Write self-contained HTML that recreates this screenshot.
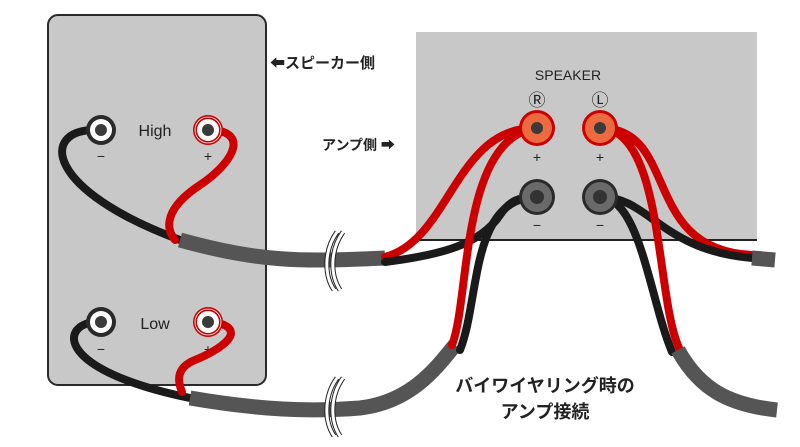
<!DOCTYPE html>
<html><head><meta charset="utf-8"><style>
html,body{margin:0;padding:0;background:#fff}
svg{display:block}
text{font-family:"Liberation Sans","Noto Sans CJK JP",sans-serif}
</style></head><body>
<svg width="800" height="447" viewBox="0 0 800 447" xmlns="http://www.w3.org/2000/svg">
<rect x="48" y="15" width="218" height="370" rx="10" fill="#c8c8c8" stroke="#2a2a2a" stroke-width="2"/>
<rect x="416" y="32" width="341" height="208" fill="#c8c8c8"/>
<line x1="416" y1="240" x2="757" y2="240" stroke="#222" stroke-width="2"/>

<g font-weight="bold" fill="#222">
<text x="270" y="68" font-size="15">⬅スピーカー側</text>
<text x="322" y="150" font-size="14">アンプ側 ➡</text>
<text x="545" y="392" font-size="18" text-anchor="middle">バイワイヤリング時の</text>
<text x="545" y="418" font-size="18" text-anchor="middle">アンプ接続</text>
</g>
<text x="568" y="80" font-size="14" text-anchor="middle" fill="#222">SPEAKER</text>
<text x="537" y="106" font-size="17" text-anchor="middle" fill="#222">Ⓡ</text>
<text x="600" y="106" font-size="17" text-anchor="middle" fill="#222">Ⓛ</text>
<text x="155" y="136" font-size="16" text-anchor="middle" fill="#222">High</text>
<text x="155" y="329" font-size="16" text-anchor="middle" fill="#222">Low</text>
<g font-size="14" fill="#222" text-anchor="middle">
<text x="101" y="161">−</text><text x="208" y="161">+</text>
<text x="101" y="354">−</text><text x="208" y="354">+</text>
<text x="537" y="162">+</text><text x="600" y="162">+</text>
<text x="537" y="230">−</text><text x="600" y="230">−</text>
</g>

<g fill="none" stroke-linecap="round">
<path d="M95 130 C40 130 45 190 180 240" stroke="#1a1a1a" stroke-width="8"/>
<path d="M215 130 C250 135 230 165 200 185 C165 208 165 228 175 240" stroke="#c00" stroke-width="8"/>
<path d="M180 240 C260 262 300 262 385 258" stroke="#555" stroke-width="15" stroke-linecap="butt"/>
<path d="M385 257 C450 240 455 128 535 128" stroke="#c00" stroke-width="8"/>
<path d="M385 262 C440 255 480 245 500 215 C510 200 520 197 535 197" stroke="#1a1a1a" stroke-width="8"/>
<path d="M95 322 C60 325 55 370 190 398" stroke="#1a1a1a" stroke-width="8"/>
<path d="M215 322 C250 330 220 350 195 360 C175 368 178 382 182 392" stroke="#c00" stroke-width="8"/>
<path d="M190 398 C260 410 310 412 360 408 C410 402 435 370 455 345" stroke="#555" stroke-width="15" stroke-linecap="butt"/>
<path d="M452 345 C470 300 460 140 535 128" stroke="#c00" stroke-width="8"/>
<path d="M460 350 C480 300 470 200 535 197" stroke="#1a1a1a" stroke-width="8"/>
<path d="M600 128 C680 128 640 250 752 255" stroke="#c00" stroke-width="8"/>
<path d="M600 197 C650 197 660 250 752 258" stroke="#1a1a1a" stroke-width="8"/>
<path d="M600 128 C665 130 655 300 680 350" stroke="#c00" stroke-width="8"/>
<path d="M600 197 C640 197 650 300 672 352" stroke="#1a1a1a" stroke-width="8"/>
<path d="M752 258 L775 260" stroke="#555" stroke-width="15" stroke-linecap="butt"/>
<path d="M678 350 C700 390 730 405 777 410" stroke="#555" stroke-width="15" stroke-linecap="butt"/>
<g stroke-linecap="butt">
<path d="M337 232 C324 250 324 275 334 290 M343 232 C330 250 330 275 340 290" stroke="#222" stroke-width="5"/>
<path d="M337 232 C324 250 324 275 334 290 M343 232 C330 250 330 275 340 290" stroke="#fff" stroke-width="3"/>
<path d="M337 378 C324 396 324 421 334 436 M343 378 C330 396 330 421 340 436" stroke="#222" stroke-width="5"/>
<path d="M337 378 C324 396 324 421 334 436 M343 378 C330 396 330 421 340 436" stroke="#fff" stroke-width="3"/>
</g>
</g>

<g>
<circle cx="101" cy="130" r="15" fill="#2a2a2a"/><circle cx="101" cy="130" r="11" fill="#fff"/><circle cx="101" cy="130" r="6" fill="#3a3a3a"/>
<circle cx="208" cy="130" r="15" fill="#c00"/><circle cx="208" cy="130" r="13" fill="none" stroke="#fff" stroke-width="0.8"/><circle cx="208" cy="130" r="11" fill="#fff"/><circle cx="208" cy="130" r="6" fill="#3a3a3a"/>
<circle cx="101" cy="322" r="15" fill="#2a2a2a"/><circle cx="101" cy="322" r="11" fill="#fff"/><circle cx="101" cy="322" r="6" fill="#3a3a3a"/>
<circle cx="208" cy="322" r="15" fill="#c00"/><circle cx="208" cy="322" r="13" fill="none" stroke="#fff" stroke-width="0.8"/><circle cx="208" cy="322" r="11" fill="#fff"/><circle cx="208" cy="322" r="6" fill="#3a3a3a"/>
</g>
<g>
<circle cx="537" cy="128" r="18" fill="#c00"/><circle cx="537" cy="128" r="15" fill="#ec6a40"/><circle cx="537" cy="128" r="6" fill="#3a3a3a"/>
<circle cx="600" cy="128" r="18" fill="#c00"/><circle cx="600" cy="128" r="15" fill="#ec6a40"/><circle cx="600" cy="128" r="6" fill="#3a3a3a"/>
<circle cx="537" cy="197" r="18" fill="#2a2a2a"/><circle cx="537" cy="197" r="15" fill="#6a6a6a"/><circle cx="537" cy="197" r="7" fill="#333"/>
<circle cx="600" cy="197" r="18" fill="#2a2a2a"/><circle cx="600" cy="197" r="15" fill="#6a6a6a"/><circle cx="600" cy="197" r="7" fill="#333"/>
</g>
</svg>
</body></html>
